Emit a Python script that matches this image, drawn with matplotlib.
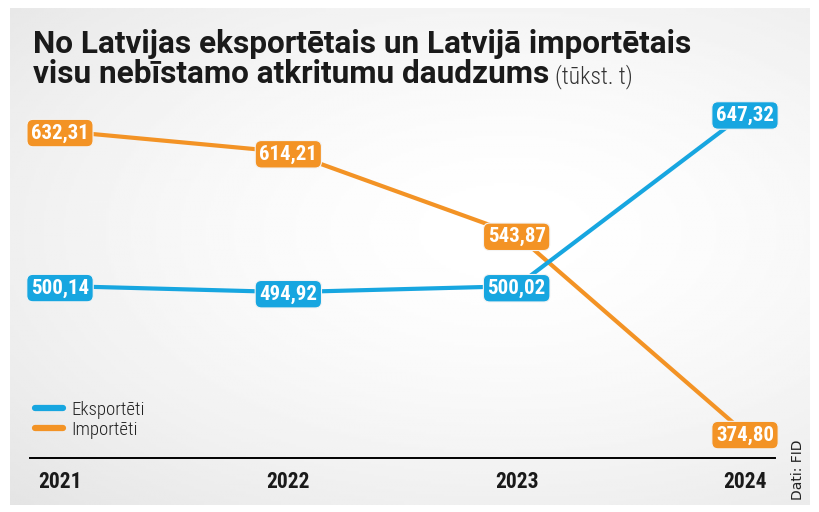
import matplotlib

matplotlib.use("Agg")
import matplotlib.pyplot as plt  # noqa: E402
import numpy as np  # noqa: E402

# data (tūkst. t)
years = [2021, 2022, 2023, 2024]
exported = [500.14, 494.92, 500.02, 647.32]
imported = [632.31, 614.21, 543.87, 374.80]
exp_labels = ["500,14", "494,92", "500,02", "647,32"]
imp_labels = ["632,31", "614,21", "543,87", "374,80"]

BLUE = "#17a6e0"
ORANGE = "#f39325"
W, H = 820, 512
COND = ["Roboto Condensed", "DejaVu Sans"]
WIDE = ["Roboto", "DejaVu Sans"]


def fx(px):
    return px / W


def fy(py):
    return 1 - py / H


fig = plt.figure(figsize=(W / 100, H / 100), dpi=100)
fig.patch.set_facecolor("white")

# panel background: light gray radial gradient
bg = fig.add_axes([fx(10), fy(505), fx(800), (505 - 8) / H])
yy, xx = np.mgrid[0:1:200j, 0:1:320j]
r = np.sqrt(((xx - 0.62) / 0.9) ** 2 + ((yy - 0.45) / 0.8) ** 2)
shade = 1 - 0.11 * np.clip(r, 0, 1) ** 1.6
bg.imshow(shade, cmap="gray", vmin=0, vmax=1, aspect="auto",
          extent=[0, 1, 0, 1], interpolation="bilinear")
bg.set_axis_off()

# main axes: pixel layout x 30..775, y 95..458
ax = fig.add_axes([fx(30), fy(458), fx(745), (458 - 95) / H])
ax.set_facecolor("none")
ax.set_xlim(2021 - 30 / 228.3, 2024 + 30 / 228.3)
ax.set_ylim(353.5, 663.0)
for s in ax.spines.values():
    s.set_visible(False)
ax.spines["bottom"].set_visible(True)
ax.spines["bottom"].set_linewidth(1.4)
ax.set_yticks([])
ax.set_xticks(years)
ax.set_xticklabels([str(y) for y in years])
ax.tick_params(axis="x", length=0, pad=9)
for t in ax.get_xticklabels():
    t.set_fontfamily(COND)
    t.set_fontweight("bold")
    t.set_fontsize(15.5)
    t.set_color("#1a1a1a")

ax.plot(years, imported, color=ORANGE, lw=3, solid_capstyle="round",
        zorder=3, clip_on=False, label="Importēti")
ax.plot(years, exported, color=BLUE, lw=3, solid_capstyle="round",
        zorder=3, clip_on=False, label="Eksportēti")

for series, labels, col in [(imported, imp_labels, ORANGE),
                            (exported, exp_labels, BLUE)]:
    for x, v, lab in zip(years, series, labels):
        ax.text(x, v, lab, ha="center", va="center_baseline", color="white",
                fontsize=15, fontweight="bold", family=COND, zorder=5,
                clip_on=False,
                bbox=dict(boxstyle="round,pad=0.2,rounding_size=0.3",
                          fc=col, ec="#f4f4f4", lw=0.8))

# legend
handles, labs = ax.get_legend_handles_labels()
leg = ax.legend(handles[::-1], labs[::-1], loc="upper left",
                bbox_to_anchor=(fx(18), fy(384)), bbox_transform=fig.transFigure,
                frameon=False, handlelength=1.5, handletextpad=0.45,
                labelspacing=0.1, prop={"family": COND, "size": 13.5,
                                        "weight": 300})
for h in leg.legend_handles:
    h.set_linewidth(4.5)
    h.set_solid_capstyle("round")
for t in leg.get_texts():
    t.set_color("#222222")

# title
fig.text(fx(33), fy(53), "No Latvijas eksportētais un Latvijā importētais",
         fontsize=22.7, fontweight="bold", family=WIDE, color="#1a1a1a",
         va="baseline")
t2 = fig.text(fx(33), fy(83), "visu nebīstamo atkritumu daudzums",
              fontsize=22.7, fontweight="bold", family=WIDE, color="#1a1a1a",
              va="baseline")
fig.canvas.draw()
bb = t2.get_window_extent()
fig.text(bb.x1 / W + fx(6), fy(83), "(tūkst. t)", fontsize=17,
         family=COND, fontweight=300, color="#333333", va="baseline")

# source
fig.text(fx(798), fy(470), "Dati: FID", rotation=90, ha="center", va="center",
         fontsize=10, color="#222222")

fig.savefig("out.png", dpi=100)
